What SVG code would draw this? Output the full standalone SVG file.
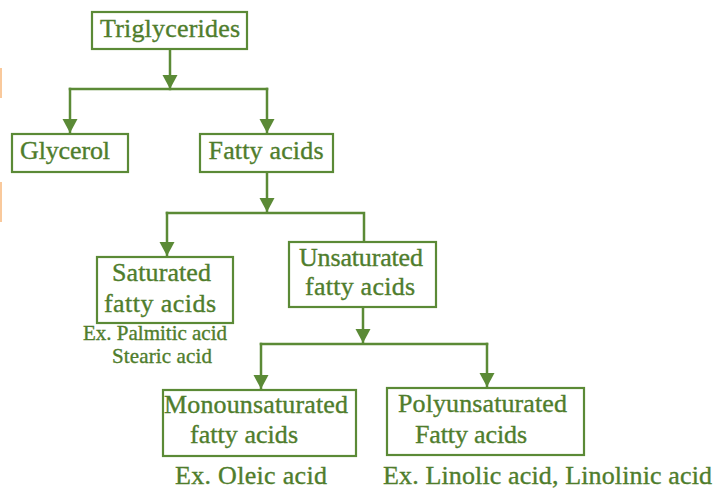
<svg xmlns="http://www.w3.org/2000/svg" width="717" height="496" viewBox="0 0 717 496">
<style>
.box{fill:#fff;stroke:#5b8a36;stroke-width:2.2}
.t{font-family:"Liberation Serif","Times New Roman",serif;fill:#4f7d2c;stroke:#4f7d2c;stroke-width:0.35;text-anchor:middle;font-size:26px}
.s{font-size:21px}
.c{fill:none;stroke:#5b8a36;stroke-width:2.5;stroke-linecap:square}
</style>
<defs>
<marker id="ah" markerUnits="userSpaceOnUse" markerWidth="16" markerHeight="14" refX="7.5" refY="14" orient="0" viewBox="0 0 15 14">
<polygon points="0,0 15,0 7.5,14" fill="#5b8a36"/>
</marker>
</defs>
<rect x="0" y="68" width="2" height="30" fill="#f9c99c"/>
<rect x="0" y="182" width="2" height="40" fill="#f9c99c"/>
<g id="connectors">
<path class="c" d="M170,50 V89" marker-end="url(#ah)"/>
<path class="c" d="M70,89 H267"/>
<path class="c" d="M70,89 V133" marker-end="url(#ah)"/>
<path class="c" d="M267,89 V133" marker-end="url(#ah)"/>
<path class="c" d="M267,173 V212" marker-end="url(#ah)"/>
<path class="c" d="M167,213 H364 V242"/>
<path class="c" d="M167,213 V256" marker-end="url(#ah)"/>
<path class="c" d="M363,308 V343" marker-end="url(#ah)"/>
<path class="c" d="M261,344 H487"/>
<path class="c" d="M261,344 V389" marker-end="url(#ah)"/>
<path class="c" d="M487,344 V387" marker-end="url(#ah)"/>
</g>
<g id="triglycerides">
<rect class="box" x="92" y="12" width="155" height="37"/>
<text class="t" x="170" y="37" textLength="140" lengthAdjust="spacing">Triglycerides</text>
</g>
<g id="glycerol">
<rect class="box" x="12" y="134" width="116" height="38"/>
<text class="t" x="65" y="159" textLength="90" lengthAdjust="spacing">Glycerol</text>
</g>
<g id="fatty-acids">
<rect class="box" x="200" y="134" width="133" height="38"/>
<text class="t" x="266" y="159" textLength="115" lengthAdjust="spacing">Fatty acids</text>
</g>
<g id="saturated">
<rect class="box" x="97" y="257" width="136" height="66"/>
<text class="t" x="161.5" y="281" textLength="99" lengthAdjust="spacing">Saturated</text>
<text class="t" x="160" y="312" textLength="112" lengthAdjust="spacing">fatty acids</text>
<text class="t s" x="155" y="340" textLength="144" lengthAdjust="spacing">Ex. Palmitic acid</text>
<text class="t s" x="162" y="363" textLength="100" lengthAdjust="spacing">Stearic acid</text>
</g>
<g id="unsaturated">
<rect class="box" x="289" y="242" width="147" height="65"/>
<text class="t" x="361" y="266" textLength="124" lengthAdjust="spacing">Unsaturated</text>
<text class="t" x="360" y="295" textLength="110" lengthAdjust="spacing">fatty acids</text>
</g>
<g id="monounsaturated">
<rect class="box" x="163" y="390" width="193" height="66"/>
<text class="t" x="256" y="413" textLength="184" lengthAdjust="spacing">Monounsaturated</text>
<text class="t" x="244" y="443" textLength="108" lengthAdjust="spacing">fatty acids</text>
<text class="t" x="251" y="484" textLength="152" lengthAdjust="spacing">Ex. Oleic acid</text>
</g>
<g id="polyunsaturated">
<rect class="box" x="387" y="388" width="197" height="67"/>
<text class="t" x="482.5" y="412" textLength="169" lengthAdjust="spacing">Polyunsaturated</text>
<text class="t" x="471" y="443" textLength="112" lengthAdjust="spacing">Fatty acids</text>
<text class="t" x="547.5" y="484" textLength="329" lengthAdjust="spacing">Ex. Linolic acid, Linolinic acid</text>
</g>
</svg>
